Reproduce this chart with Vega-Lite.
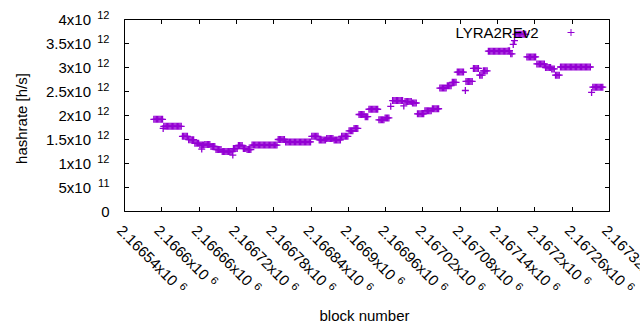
{
"$schema": "https://vega.github.io/schema/vega-lite/v6.json",
"width": 485, "height": 192,
"autosize": {"type": "none"},
"padding": {"left": 124, "top": 19, "right": 31, "bottom": 119},
"background": "white",
"config": {
  "view": {"stroke": "black", "strokeWidth": 1},
  "font": "Liberation Sans",
  "axis": {"grid": false, "domain": false, "labelFont": "Liberation Sans", "titleFont": "Liberation Sans", "labelColor": "black", "titleColor": "black", "tickColor": "black", "tickWidth": 1, "labelFlush": false, "labelOverlap": false, "labelBound": false, "titleFontWeight": "normal"}
},
"data": {"values": [
{"block":2166588,"hashrate":1.91e12},{"block":2166590,"hashrate":1.91e12},{"block":2166592,"hashrate":1.91e12},{"block":2166594,"hashrate":1.91e12},{"block":2166596,"hashrate":1.91e12},{"block":2166598,"hashrate":1.91e12},{"block":2166600,"hashrate":1.91e12},{"block":2166602,"hashrate":1.91e12},
{"block":2166603,"hashrate":1.72e12},
{"block":2166604,"hashrate":1.765e12},{"block":2166606,"hashrate":1.765e12},{"block":2166608,"hashrate":1.765e12},{"block":2166610,"hashrate":1.765e12},{"block":2166612,"hashrate":1.765e12},{"block":2166614,"hashrate":1.765e12},{"block":2166616,"hashrate":1.765e12},{"block":2166618,"hashrate":1.765e12},{"block":2166620,"hashrate":1.765e12},{"block":2166622,"hashrate":1.765e12},{"block":2166624,"hashrate":1.765e12},{"block":2166626,"hashrate":1.765e12},{"block":2166628,"hashrate":1.765e12},{"block":2166630,"hashrate":1.765e12},{"block":2166632,"hashrate":1.765e12},
{"block":2166634,"hashrate":1.555e12},{"block":2166636,"hashrate":1.555e12},{"block":2166638,"hashrate":1.555e12},{"block":2166640,"hashrate":1.555e12},{"block":2166642,"hashrate":1.555e12},
{"block":2166644,"hashrate":1.485e12},{"block":2166646,"hashrate":1.485e12},{"block":2166648,"hashrate":1.485e12},{"block":2166650,"hashrate":1.485e12},{"block":2166652,"hashrate":1.485e12},
{"block":2166654,"hashrate":1.41e12},{"block":2166656,"hashrate":1.41e12},{"block":2166658,"hashrate":1.41e12},{"block":2166660,"hashrate":1.41e12},
{"block":2166662,"hashrate":1.375e12},{"block":2166664,"hashrate":1.375e12},{"block":2166666,"hashrate":1.375e12},{"block":2166668,"hashrate":1.375e12},
{"block":2166665,"hashrate":1.29e12},
{"block":2166670,"hashrate":1.385e12},{"block":2166672,"hashrate":1.385e12},{"block":2166674,"hashrate":1.385e12},{"block":2166676,"hashrate":1.385e12},{"block":2166678,"hashrate":1.385e12},
{"block":2166680,"hashrate":1.345e12},{"block":2166682,"hashrate":1.345e12},{"block":2166684,"hashrate":1.345e12},{"block":2166686,"hashrate":1.345e12},
{"block":2166688,"hashrate":1.28e12},{"block":2166690,"hashrate":1.28e12},{"block":2166692,"hashrate":1.28e12},{"block":2166694,"hashrate":1.28e12},{"block":2166696,"hashrate":1.28e12},
{"block":2166698,"hashrate":1.24e12},{"block":2166700,"hashrate":1.24e12},{"block":2166702,"hashrate":1.24e12},{"block":2166704,"hashrate":1.24e12},{"block":2166706,"hashrate":1.24e12},{"block":2166708,"hashrate":1.24e12},{"block":2166710,"hashrate":1.24e12},{"block":2166712,"hashrate":1.24e12},{"block":2166714,"hashrate":1.24e12},
{"block":2166715,"hashrate":1.165e12},
{"block":2166716,"hashrate":1.30e12},{"block":2166718,"hashrate":1.30e12},{"block":2166720,"hashrate":1.30e12},{"block":2166722,"hashrate":1.30e12},
{"block":2166724,"hashrate":1.365e12},{"block":2166726,"hashrate":1.365e12},{"block":2166728,"hashrate":1.365e12},{"block":2166730,"hashrate":1.365e12},
{"block":2166732,"hashrate":1.30e12},{"block":2166734,"hashrate":1.30e12},{"block":2166736,"hashrate":1.30e12},
{"block":2166738,"hashrate":1.28e12},{"block":2166740,"hashrate":1.28e12},{"block":2166742,"hashrate":1.28e12},{"block":2166744,"hashrate":1.28e12},
{"block":2166746,"hashrate":1.373e12},{"block":2166748,"hashrate":1.373e12},{"block":2166750,"hashrate":1.373e12},{"block":2166752,"hashrate":1.373e12},{"block":2166754,"hashrate":1.373e12},{"block":2166756,"hashrate":1.373e12},{"block":2166758,"hashrate":1.373e12},{"block":2166760,"hashrate":1.373e12},{"block":2166762,"hashrate":1.373e12},{"block":2166764,"hashrate":1.373e12},{"block":2166766,"hashrate":1.373e12},{"block":2166768,"hashrate":1.373e12},{"block":2166770,"hashrate":1.373e12},{"block":2166772,"hashrate":1.373e12},{"block":2166774,"hashrate":1.373e12},{"block":2166776,"hashrate":1.373e12},{"block":2166778,"hashrate":1.373e12},{"block":2166780,"hashrate":1.373e12},{"block":2166782,"hashrate":1.373e12},{"block":2166784,"hashrate":1.373e12},{"block":2166786,"hashrate":1.373e12},
{"block":2166788,"hashrate":1.49e12},{"block":2166790,"hashrate":1.49e12},{"block":2166792,"hashrate":1.49e12},{"block":2166794,"hashrate":1.49e12},{"block":2166796,"hashrate":1.49e12},{"block":2166798,"hashrate":1.49e12},
{"block":2166800,"hashrate":1.44e12},{"block":2166802,"hashrate":1.44e12},{"block":2166804,"hashrate":1.44e12},{"block":2166806,"hashrate":1.44e12},{"block":2166808,"hashrate":1.44e12},{"block":2166810,"hashrate":1.44e12},{"block":2166812,"hashrate":1.44e12},{"block":2166814,"hashrate":1.44e12},{"block":2166816,"hashrate":1.44e12},{"block":2166818,"hashrate":1.44e12},{"block":2166820,"hashrate":1.44e12},{"block":2166822,"hashrate":1.44e12},{"block":2166824,"hashrate":1.44e12},{"block":2166826,"hashrate":1.44e12},{"block":2166828,"hashrate":1.44e12},{"block":2166830,"hashrate":1.44e12},{"block":2166832,"hashrate":1.44e12},{"block":2166834,"hashrate":1.44e12},{"block":2166836,"hashrate":1.44e12},{"block":2166838,"hashrate":1.44e12},{"block":2166840,"hashrate":1.44e12},
{"block":2166842,"hashrate":1.555e12},{"block":2166844,"hashrate":1.555e12},{"block":2166846,"hashrate":1.555e12},{"block":2166848,"hashrate":1.555e12},{"block":2166850,"hashrate":1.555e12},{"block":2166852,"hashrate":1.555e12},
{"block":2166854,"hashrate":1.48e12},{"block":2166856,"hashrate":1.48e12},{"block":2166858,"hashrate":1.48e12},{"block":2166860,"hashrate":1.48e12},{"block":2166862,"hashrate":1.48e12},{"block":2166864,"hashrate":1.48e12},
{"block":2166866,"hashrate":1.51e12},{"block":2166868,"hashrate":1.51e12},{"block":2166870,"hashrate":1.51e12},{"block":2166872,"hashrate":1.51e12},{"block":2166874,"hashrate":1.51e12},{"block":2166876,"hashrate":1.51e12},
{"block":2166878,"hashrate":1.48e12},{"block":2166880,"hashrate":1.48e12},{"block":2166882,"hashrate":1.48e12},{"block":2166884,"hashrate":1.48e12},{"block":2166886,"hashrate":1.48e12},{"block":2166888,"hashrate":1.48e12},
{"block":2166890,"hashrate":1.555e12},{"block":2166892,"hashrate":1.555e12},{"block":2166894,"hashrate":1.555e12},{"block":2166896,"hashrate":1.555e12},{"block":2166898,"hashrate":1.555e12},{"block":2166900,"hashrate":1.555e12},
{"block":2166902,"hashrate":1.67e12},{"block":2166904,"hashrate":1.67e12},{"block":2166906,"hashrate":1.67e12},{"block":2166908,"hashrate":1.67e12},
{"block":2166910,"hashrate":1.72e12},{"block":2166912,"hashrate":1.72e12},{"block":2166914,"hashrate":1.72e12},{"block":2166916,"hashrate":1.72e12},
{"block":2166918,"hashrate":2.01e12},{"block":2166920,"hashrate":2.01e12},{"block":2166922,"hashrate":2.01e12},{"block":2166924,"hashrate":2.01e12},{"block":2166926,"hashrate":2.01e12},
{"block":2166928,"hashrate":1.965e12},{"block":2166930,"hashrate":1.965e12},{"block":2166932,"hashrate":1.965e12},
{"block":2166934,"hashrate":2.12e12},{"block":2166936,"hashrate":2.12e12},{"block":2166938,"hashrate":2.12e12},{"block":2166940,"hashrate":2.12e12},{"block":2166942,"hashrate":2.12e12},{"block":2166944,"hashrate":2.12e12},{"block":2166946,"hashrate":2.12e12},{"block":2166948,"hashrate":2.12e12},
{"block":2166950,"hashrate":1.90e12},{"block":2166952,"hashrate":1.90e12},{"block":2166954,"hashrate":1.90e12},{"block":2166956,"hashrate":1.90e12},{"block":2166958,"hashrate":1.90e12},
{"block":2166960,"hashrate":1.94e12},{"block":2166962,"hashrate":1.94e12},{"block":2166964,"hashrate":1.94e12},{"block":2166966,"hashrate":1.94e12},
{"block":2166969,"hashrate":2.18e12},
{"block":2166972,"hashrate":2.30e12},{"block":2166974,"hashrate":2.30e12},{"block":2166976,"hashrate":2.30e12},{"block":2166978,"hashrate":2.30e12},{"block":2166980,"hashrate":2.30e12},{"block":2166982,"hashrate":2.30e12},{"block":2166984,"hashrate":2.30e12},{"block":2166986,"hashrate":2.30e12},{"block":2166988,"hashrate":2.30e12},
{"block":2166990,"hashrate":2.19e12},
{"block":2166992,"hashrate":2.28e12},{"block":2166994,"hashrate":2.28e12},{"block":2166996,"hashrate":2.28e12},{"block":2166998,"hashrate":2.28e12},{"block":2167000,"hashrate":2.28e12},{"block":2167002,"hashrate":2.28e12},
{"block":2167004,"hashrate":2.25e12},{"block":2167006,"hashrate":2.25e12},{"block":2167008,"hashrate":2.25e12},{"block":2167010,"hashrate":2.25e12},
{"block":2167012,"hashrate":2.025e12},{"block":2167014,"hashrate":2.025e12},{"block":2167016,"hashrate":2.025e12},{"block":2167018,"hashrate":2.025e12},{"block":2167020,"hashrate":2.025e12},{"block":2167022,"hashrate":2.025e12},
{"block":2167024,"hashrate":2.09e12},{"block":2167026,"hashrate":2.09e12},{"block":2167028,"hashrate":2.09e12},{"block":2167030,"hashrate":2.09e12},{"block":2167032,"hashrate":2.09e12},{"block":2167034,"hashrate":2.09e12},
{"block":2167036,"hashrate":2.13e12},{"block":2167038,"hashrate":2.13e12},{"block":2167040,"hashrate":2.13e12},{"block":2167042,"hashrate":2.13e12},{"block":2167044,"hashrate":2.13e12},{"block":2167046,"hashrate":2.13e12},
{"block":2167048,"hashrate":2.56e12},{"block":2167050,"hashrate":2.56e12},{"block":2167052,"hashrate":2.56e12},{"block":2167054,"hashrate":2.56e12},{"block":2167056,"hashrate":2.56e12},{"block":2167058,"hashrate":2.56e12},
{"block":2167060,"hashrate":2.61e12},{"block":2167062,"hashrate":2.61e12},{"block":2167064,"hashrate":2.61e12},{"block":2167066,"hashrate":2.61e12},
{"block":2167068,"hashrate":2.68e12},{"block":2167070,"hashrate":2.68e12},{"block":2167072,"hashrate":2.68e12},{"block":2167074,"hashrate":2.68e12},
{"block":2167076,"hashrate":2.895e12},{"block":2167078,"hashrate":2.895e12},{"block":2167080,"hashrate":2.895e12},{"block":2167082,"hashrate":2.895e12},{"block":2167084,"hashrate":2.895e12},{"block":2167086,"hashrate":2.895e12},
{"block":2167089,"hashrate":2.51e12},
{"block":2167090,"hashrate":2.70e12},{"block":2167092,"hashrate":2.70e12},{"block":2167094,"hashrate":2.70e12},{"block":2167096,"hashrate":2.70e12},{"block":2167098,"hashrate":2.70e12},{"block":2167100,"hashrate":2.70e12},
{"block":2167102,"hashrate":2.97e12},{"block":2167104,"hashrate":2.97e12},{"block":2167106,"hashrate":2.97e12},{"block":2167108,"hashrate":2.97e12},{"block":2167110,"hashrate":2.97e12},
{"block":2167112,"hashrate":2.83e12},{"block":2167114,"hashrate":2.83e12},{"block":2167116,"hashrate":2.83e12},
{"block":2167118,"hashrate":2.92e12},{"block":2167120,"hashrate":2.92e12},{"block":2167122,"hashrate":2.92e12},{"block":2167124,"hashrate":2.92e12},
{"block":2167126,"hashrate":3.33e12},{"block":2167128,"hashrate":3.33e12},{"block":2167130,"hashrate":3.33e12},{"block":2167132,"hashrate":3.33e12},{"block":2167134,"hashrate":3.33e12},{"block":2167136,"hashrate":3.33e12},{"block":2167138,"hashrate":3.33e12},{"block":2167140,"hashrate":3.33e12},{"block":2167142,"hashrate":3.33e12},{"block":2167144,"hashrate":3.33e12},{"block":2167146,"hashrate":3.33e12},{"block":2167148,"hashrate":3.33e12},{"block":2167150,"hashrate":3.33e12},{"block":2167152,"hashrate":3.33e12},{"block":2167154,"hashrate":3.33e12},{"block":2167156,"hashrate":3.33e12},{"block":2167158,"hashrate":3.34e12},{"block":2167160,"hashrate":3.34e12},
{"block":2167162,"hashrate":3.275e12},{"block":2167164,"hashrate":3.275e12},
{"block":2167166,"hashrate":3.47e12},{"block":2167168,"hashrate":3.55e12},
{"block":2167170,"hashrate":3.68e12},{"block":2167172,"hashrate":3.68e12},{"block":2167174,"hashrate":3.68e12},{"block":2167176,"hashrate":3.68e12},{"block":2167178,"hashrate":3.68e12},{"block":2167180,"hashrate":3.68e12},{"block":2167182,"hashrate":3.68e12},{"block":2167184,"hashrate":3.68e12},{"block":2167186,"hashrate":3.68e12},
{"block":2167188,"hashrate":3.21e12},{"block":2167190,"hashrate":3.21e12},{"block":2167192,"hashrate":3.21e12},{"block":2167194,"hashrate":3.21e12},{"block":2167196,"hashrate":3.21e12},{"block":2167198,"hashrate":3.21e12},{"block":2167200,"hashrate":3.21e12},{"block":2167202,"hashrate":3.21e12},
{"block":2167204,"hashrate":3.065e12},{"block":2167206,"hashrate":3.065e12},{"block":2167208,"hashrate":3.065e12},{"block":2167210,"hashrate":3.065e12},{"block":2167212,"hashrate":3.065e12},{"block":2167214,"hashrate":3.065e12},{"block":2167216,"hashrate":3.065e12},
{"block":2167218,"hashrate":2.99e12},{"block":2167220,"hashrate":2.99e12},{"block":2167222,"hashrate":2.99e12},{"block":2167224,"hashrate":2.99e12},{"block":2167226,"hashrate":2.99e12},
{"block":2167228,"hashrate":2.96e12},{"block":2167230,"hashrate":2.96e12},{"block":2167232,"hashrate":2.96e12},
{"block":2167234,"hashrate":2.83e12},{"block":2167236,"hashrate":2.83e12},{"block":2167238,"hashrate":2.83e12},{"block":2167240,"hashrate":2.83e12},
{"block":2167242,"hashrate":3.00e12},{"block":2167244,"hashrate":3.00e12},{"block":2167246,"hashrate":3.00e12},{"block":2167248,"hashrate":3.00e12},{"block":2167250,"hashrate":3.00e12},{"block":2167252,"hashrate":3.00e12},{"block":2167254,"hashrate":3.00e12},{"block":2167256,"hashrate":3.00e12},{"block":2167258,"hashrate":3.00e12},{"block":2167260,"hashrate":3.00e12},{"block":2167262,"hashrate":3.00e12},{"block":2167264,"hashrate":3.00e12},{"block":2167266,"hashrate":3.00e12},{"block":2167268,"hashrate":3.00e12},{"block":2167270,"hashrate":3.00e12},{"block":2167272,"hashrate":3.00e12},{"block":2167274,"hashrate":3.00e12},{"block":2167276,"hashrate":3.00e12},{"block":2167278,"hashrate":3.00e12},{"block":2167280,"hashrate":3.00e12},{"block":2167282,"hashrate":3.00e12},{"block":2167284,"hashrate":3.00e12},{"block":2167286,"hashrate":3.00e12},{"block":2167288,"hashrate":3.00e12},{"block":2167290,"hashrate":3.00e12},
{"block":2167292,"hashrate":2.47e12},
{"block":2167294,"hashrate":2.58e12},{"block":2167296,"hashrate":2.58e12},{"block":2167298,"hashrate":2.58e12},{"block":2167300,"hashrate":2.58e12},{"block":2167302,"hashrate":2.58e12},{"block":2167304,"hashrate":2.58e12},{"block":2167306,"hashrate":2.58e12},{"block":2167308,"hashrate":2.58e12},{"block":2167310,"hashrate":2.58e12}
]},
"layer": [
  {
    "mark": {"type": "point", "shape": "M-1,0H1M0,-1V1", "filled": false, "size": 49, "strokeWidth": 1.3, "opacity": 1},
    "encoding": {
      "x": {"field": "block", "type": "quantitative",
        "scale": {"domain": [2166540, 2167320], "nice": false, "zero": false},
        "axis": {"orient": "bottom", "values": [2166540,2166600,2166660,2166720,2166780,2166840,2166900,2166960,2167020,2167080,2167140,2167200,2167260,2167320],
          "labelExpr": "datum.value/1e6 + 'x10'", "labelAngle": 45, "labelAlign": "left", "labelBaseline": "top", "labelFontSize": 15,
          "tickSize": -4.5, "labelPadding": 16,
          "title": "block number", "titleFontSize": 15, "titleX": 240, "titleY": 109, "titleAlign": "center", "titleBaseline": "alphabetic"}},
      "y": {"field": "hashrate", "type": "quantitative",
        "scale": {"domain": [0, 4e12], "nice": false},
        "axis": {"orient": "left", "values": [0,5e11,1e12,1.5e12,2e12,2.5e12,3e12,3.5e12,4e12],
          "labelExpr": "datum.value == 0 ? '' : (datum.value < 1e12 ? datum.value/1e11 : datum.value/1e12) + 'x10'",
          "labelFontSize": 15, "labelAlign": "right", "labelBaseline": "middle", "tickSize": -4.5, "labelPadding": 38,
          "title": "hashrate [h/s]", "titleFontSize": 15, "titleAngle": -90, "titleX": -97.6, "titleY": 99, "titleAlign": "center", "titleBaseline": "alphabetic"}},
      "color": {"datum": "LYRA2REv2", "type": "nominal", "scale": {"range": ["#9400d3"]},
        "legend": {"orient": "none", "legendX": 439.5, "legendY": 6, "title": null, "padding": 0,
          "labelFont": "Liberation Sans", "labelFontSize": 15, "labelColor": "black", "labelAlign": "right", "labelOffset": -40,
          "symbolType": "M-1,0H1M0,-1V1", "symbolSize": 49, "symbolStrokeWidth": 1, "symbolStrokeColor": "#9400d3", "symbolFillColor": "transparent"}}
    }
  },
  {
    "mark": {"type": "point", "opacity": 0},
    "encoding": {
      "x": {"field": "block", "type": "quantitative",
        "axis": {"orient": "bottom", "values": [2166540,2166600,2166660,2166720,2166780,2166840,2166900,2166960,2167020,2167080,2167140,2167200,2167260,2167320],
          "labelExpr": "'6'", "labelAngle": 45, "labelAlign": "left", "labelBaseline": "top", "labelFontSize": 11, "ticks": false,
          "labelOffset": {"condition": {"test": "length(toString(datum.value/1e6)) < 7", "value": 54.4}, "value": 60.5},
          "labelPadding": {"condition": {"test": "length(toString(datum.value/1e6)) < 7", "value": 63.1}, "value": 69.1},
          "title": null}},
      "y": {"field": "hashrate", "type": "quantitative",
        "axis": {"orient": "left", "values": [0,5e11,1e12,1.5e12,2e12,2.5e12,3e12,3.5e12,4e12],
          "labelExpr": "datum.value == 0 ? '0' : (datum.value < 1e12 ? '11' : '12')",
          "labelFontSize": {"condition": {"test": "datum.value == 0", "value": 15}, "value": 11},
          "labelOffset": {"condition": {"test": "datum.value == 0", "value": 0}, "value": -4},
          "labelAlign": "right", "labelBaseline": "middle", "ticks": false, "labelPadding": 15, "title": null}}
    }
  },
  {
    "mark": {"type": "point", "opacity": 0},
    "encoding": {
      "x": {"field": "block", "type": "quantitative",
        "axis": {"orient": "top", "values": [2166540,2166600,2166660,2166720,2166780,2166840,2166900,2166960,2167020,2167080,2167140,2167200,2167260,2167320],
          "labels": false, "tickSize": -4.5, "title": null}},
      "y": {"field": "hashrate", "type": "quantitative",
        "axis": {"orient": "right", "values": [0,5e11,1e12,1.5e12,2e12,2.5e12,3e12,3.5e12,4e12],
          "labels": false, "tickSize": -4.5, "title": null}}
    }
  }
],
"resolve": {"axis": {"x": "independent", "y": "independent"}}
}
